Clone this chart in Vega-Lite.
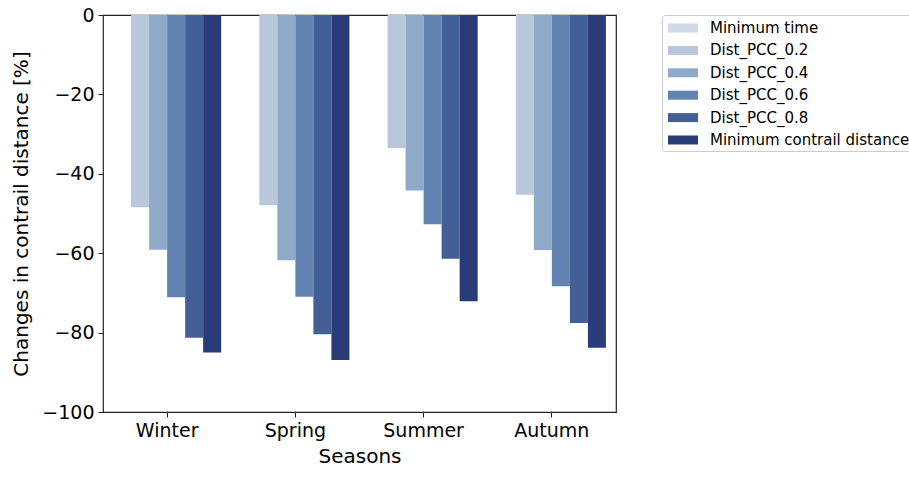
{
  "$schema": "https://vega.github.io/schema/vega-lite/v6.json",
  "autosize": "none",
  "width": 513,
  "height": 397,
  "padding": {"left": 103, "top": 15, "right": 293, "bottom": 68},
  "background": "white",
  "config": {
    "font": "DejaVu Sans",
    "view": {"stroke": "#222222", "strokeWidth": 1.2}
  },
  "data": {
    "values": [
      {"season": "Winter", "method": "Minimum time", "value": 0},
      {"season": "Winter", "method": "Dist_PCC_0.2", "value": -48.4},
      {"season": "Winter", "method": "Dist_PCC_0.4", "value": -59.1},
      {"season": "Winter", "method": "Dist_PCC_0.6", "value": -71.1},
      {"season": "Winter", "method": "Dist_PCC_0.8", "value": -81.3},
      {"season": "Winter", "method": "Minimum contrail distance", "value": -85.0},
      {"season": "Spring", "method": "Minimum time", "value": 0},
      {"season": "Spring", "method": "Dist_PCC_0.2", "value": -47.9},
      {"season": "Spring", "method": "Dist_PCC_0.4", "value": -61.8},
      {"season": "Spring", "method": "Dist_PCC_0.6", "value": -71.0},
      {"season": "Spring", "method": "Dist_PCC_0.8", "value": -80.4},
      {"season": "Spring", "method": "Minimum contrail distance", "value": -86.9},
      {"season": "Summer", "method": "Minimum time", "value": 0},
      {"season": "Summer", "method": "Dist_PCC_0.2", "value": -33.5},
      {"season": "Summer", "method": "Dist_PCC_0.4", "value": -44.2},
      {"season": "Summer", "method": "Dist_PCC_0.6", "value": -52.7},
      {"season": "Summer", "method": "Dist_PCC_0.8", "value": -61.4},
      {"season": "Summer", "method": "Minimum contrail distance", "value": -72.1},
      {"season": "Autumn", "method": "Minimum time", "value": 0},
      {"season": "Autumn", "method": "Dist_PCC_0.2", "value": -45.3},
      {"season": "Autumn", "method": "Dist_PCC_0.4", "value": -59.2},
      {"season": "Autumn", "method": "Dist_PCC_0.6", "value": -68.3},
      {"season": "Autumn", "method": "Dist_PCC_0.8", "value": -77.6},
      {"season": "Autumn", "method": "Minimum contrail distance", "value": -83.8}
    ]
  },
  "mark": {"type": "bar"},
  "encoding": {
    "x": {
      "field": "season",
      "type": "nominal",
      "sort": ["Winter", "Spring", "Summer", "Autumn"],
      "scale": {"paddingInner": 0, "paddingOuter": 0},
      "axis": {
        "title": "Seasons",
        "titleFontSize": 20,
        "titleFontWeight": "normal",
        "titleColor": "#000000",
        "titlePadding": 6,
        "labelAngle": 0,
        "labelFontSize": 19,
        "labelColor": "#000000",
        "labelPadding": 4,
        "tickColor": "#222222",
        "tickSize": 5,
        "domain": false
      }
    },
    "xOffset": {
      "field": "method",
      "type": "nominal",
      "sort": ["Minimum time", "Dist_PCC_0.2", "Dist_PCC_0.4", "Dist_PCC_0.6", "Dist_PCC_0.8", "Minimum contrail distance"],
      "scale": {"paddingInner": 0, "paddingOuter": 0.56}
    },
    "y": {
      "field": "value",
      "type": "quantitative",
      "scale": {"domain": [-100, 0], "nice": false, "zero": false},
      "axis": {
        "title": "Changes in contrail distance [%]",
        "titleFontSize": 20,
        "titleFontWeight": "normal",
        "titleColor": "#000000",
        "titlePadding": 10,
        "values": [0, -20, -40, -60, -80, -100],
        "labelFontSize": 19,
        "labelColor": "#000000",
        "labelPadding": 4,
        "tickColor": "#222222",
        "tickSize": 5,
        "grid": false,
        "domain": false
      }
    },
    "color": {
      "field": "method",
      "type": "nominal",
      "sort": ["Minimum time", "Dist_PCC_0.2", "Dist_PCC_0.4", "Dist_PCC_0.6", "Dist_PCC_0.8", "Minimum contrail distance"],
      "scale": {
        "domain": ["Minimum time", "Dist_PCC_0.2", "Dist_PCC_0.4", "Dist_PCC_0.6", "Dist_PCC_0.8", "Minimum contrail distance"],
        "range": ["#d0dae8", "#b8c7dc", "#8fa9c8", "#6383b2", "#435f96", "#283c77"]
      },
      "legend": {
        "title": null,
        "orient": "none",
        "legendX": 559,
        "legendY": 0,
        "labelFontSize": 15,
        "labelColor": "#000000",
        "labelLimit": 400,
        "symbolType": "M-1.5,-0.45H1.5V0.45H-1.5Z",
        "symbolSize": 400,
        "symbolStrokeWidth": 0,
        "symbolOpacity": 1,
        "symbolOffset": 8,
        "rowPadding": 4.4,
        "labelOffset": 17,
        "padding": 3,
        "strokeColor": "#cccccc",
        "cornerRadius": 3,
        "fillColor": "white"
      }
    }
  }
}
